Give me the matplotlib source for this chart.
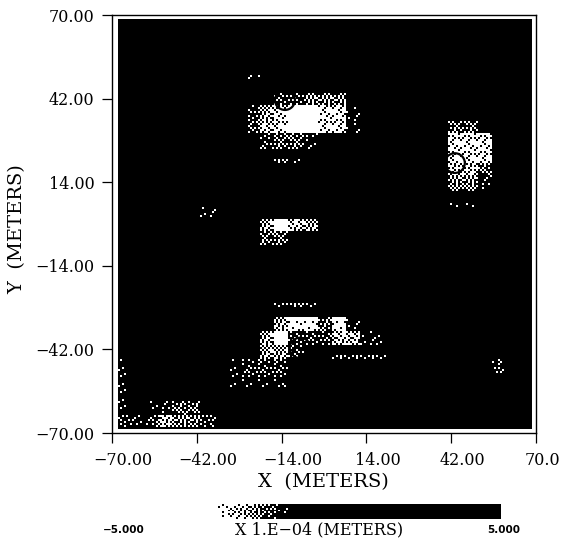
"""Displacement map with halftone shading, redrawn from a scanned figure."""

import matplotlib

matplotlib.use("Agg")
import matplotlib.pyplot as plt
import numpy as np
from matplotlib.patches import Circle
from matplotlib.transforms import Bbox, ScaledTranslation

FIG_W, FIG_H = 572, 542

# axis ticks and labels
tick_values = [-70, -42, -14, 14, 42, 70]
tick_labels = ["\u221270.00", "\u221242.00", "\u221214.00", "14.00", "42.00", "70.00"]

# cell edges in metres
x_edges = [-68.35, -64.06, -57.45, -55.1, -50.2, -40.95, -36.0, -31.0, -25.4, -21.1, -16.85, -11.9,
           -6.95, -2.0, 2.6, 7.25, 11.9, 20.8, 40.9, 50.8, 55.45, 59.75, 69.0]
y_edges = [68.66, 49.9, 48.57, 44.2, 39.9, 34.5, 30.5, 25.46, 22.1, 20.77, 16.4, 11.4, 7.0, 6.0, 2.0,
           -2.67, -7.36, -26.45, -27.8, -31.5, -36.2, -40.85, -44.2, -45.5, -50.2, -54.0, -54.9,
           -59.6, -63.96, -68.3, -69.3]

# brightness of each cell, 0 = black, 9 = white, top row first
cells = [
    "0000000000000000000000",
    "0000000030000000000000",
    "0000000000000000000000",
    "0000000000224440000000",
    "0000000025799771000000",
    "0000000036799771003000",
    "0000000002331000007700",
    "0000000000000000007700",
    "0000000000310000007700",
    "0000000000000000006300",
    "0000000000000000004100",
    "0000000000000000000000",
    "0000000000000000002000",
    "0000010000000000000000",
    "0000000005965000000000",
    "0000000003300000000000",
    "0000000000000000000000",
    "0000000000232000000000",
    "0000000000000000000000",
    "0000000000588381000000",
    "0000000005922266100000",
    "0000000005520000000000",
    "0000000005520033300000",
    "1000000122200000000020",
    "1000000111100000000000",
    "1000000222300000000000",
    "1000000000000000000000",
    "1011300000000000000000",
    "2126420000000000000000",
    "1000000000000000000000",
]

# source rings
ring_x = [-12.9, 43.2, -7.9]
ring_y = [41.5, 20.4, -41.5]
ring_r = [3.3, 3.3, 3.4]

# colour scale, X 1.E-04 metres
scale_stops = [-5.0, -4.0, -2.5]
scale_brightness = [0.9, 0.6, 0.0]

# hand-ordered threshold tile, gives the scanned speckle look
tile = np.array([
    [33, 9, 57, 20, 41, 3, 50, 14],
    [62, 24, 38, 7, 60, 28, 17, 45],
    [12, 47, 1, 53, 11, 35, 64, 26],
    [40, 30, 19, 44, 23, 56, 5, 49],
    [55, 4, 63, 34, 2, 42, 31, 16],
    [21, 37, 13, 51, 27, 61, 10, 58],
    [46, 6, 59, 18, 39, 15, 52, 25],
    [29, 54, 22, 43, 8, 48, 36, 32],
]) / 65.0


def halftone(brightness):
    """Turn a brightness array into black and white specks."""
    rows, cols = np.indices(brightness.shape)
    return brightness > tile[rows % 8, cols % 8]


def px_rect(left, top, right, bottom):
    """Figure fractions for a rectangle given in picture pixels."""
    return [left / FIG_W, 1 - bottom / FIG_H, (right - left) / FIG_W, (bottom - top) / FIG_H]


def put_text(x, y, text, **kwargs):
    """Place a text by its picture pixel position."""
    return fig.text(x / FIG_W, 1 - y / FIG_H, text, ha="center", va="center", **kwargs)


fig = plt.figure(figsize=(FIG_W / 100, FIG_H / 100), dpi=100)
ax = fig.add_axes(px_rect(112, 15, 536, 433))

# look the cells up on a 2 px raster
values = np.array([[int(c) for c in row] for row in cells]) / 9.0
xs = np.linspace(-70, 70, 212)
ys = np.linspace(70, -70, 209)
col = np.searchsorted(x_edges, xs) - 1
row = np.searchsorted(-np.array(y_edges), -ys) - 1
inside = np.outer((row >= 0) & (row < len(cells)), (col >= 0) & (col < len(x_edges) - 1))
grid = np.ones((len(ys), len(xs)))
grid[inside] = values[np.ix_(row.clip(0, len(cells) - 1), col.clip(0, len(x_edges) - 2))][inside]

ax.imshow(halftone(grid), cmap="gray", vmin=0, vmax=1, extent=[-70, 70, -70, 70],
          aspect="auto", interpolation="nearest")

for x, y, r in zip(ring_x, ring_y, ring_r):
    ax.add_patch(Circle((x, y), r, fill=False, edgecolor="black", linewidth=1.6))

ax.set_xlim(-70, 70)
ax.set_ylim(-70, 70)
ax.set_xticks(tick_values, tick_labels, family="DejaVu Serif", fontsize=11.5)
ax.set_yticks(tick_values, tick_labels, family="DejaVu Serif", fontsize=11.5)
ax.tick_params(axis="x", length=7.5, width=0.9, pad=6.5)
ax.tick_params(axis="y", length=7.5, width=0.9, pad=5)
for spine in ax.spines.values():
    spine.set_linewidth(1.0)

# scanned x labels sit to the right of their ticks, and the last one is cut off
shift = ScaledTranslation(11 / 100, 0, fig.dpi_scale_trans)
for label in ax.get_xticklabels():
    label.set_transform(label.get_transform() + shift)
ax.get_xticklabels()[-1].set_clip_box(Bbox([[0, 0], [560, FIG_H]]))
ax.get_xticklabels()[-1].set_clip_on(True)

put_text(323, 482, "X  (METERS)", family="DejaVu Serif", fontsize=14)
put_text(17, 229, "Y  (METERS)", family="DejaVu Serif", fontsize=14, rotation=90)

# colour bar
cax = fig.add_axes(px_rect(218, 504, 501, 519))
ramp = np.linspace(-5, 5, 142)
shade = np.interp(ramp, scale_stops, scale_brightness)
cax.imshow(halftone(np.tile(shade, (8, 1))), cmap="gray", vmin=0, vmax=1, aspect="auto",
           interpolation="nearest")
cax.axis("off")

put_text(124, 530, "\u22125.000", family="DejaVu Sans", fontsize=7.5, fontweight="bold")
put_text(319, 530, "X 1.E\u221204 (METERS)", family="DejaVu Serif", fontsize=11.5)
put_text(504, 530, "5.000", family="DejaVu Sans", fontsize=7.5, fontweight="bold")

fig.savefig("out.png", dpi=100)
